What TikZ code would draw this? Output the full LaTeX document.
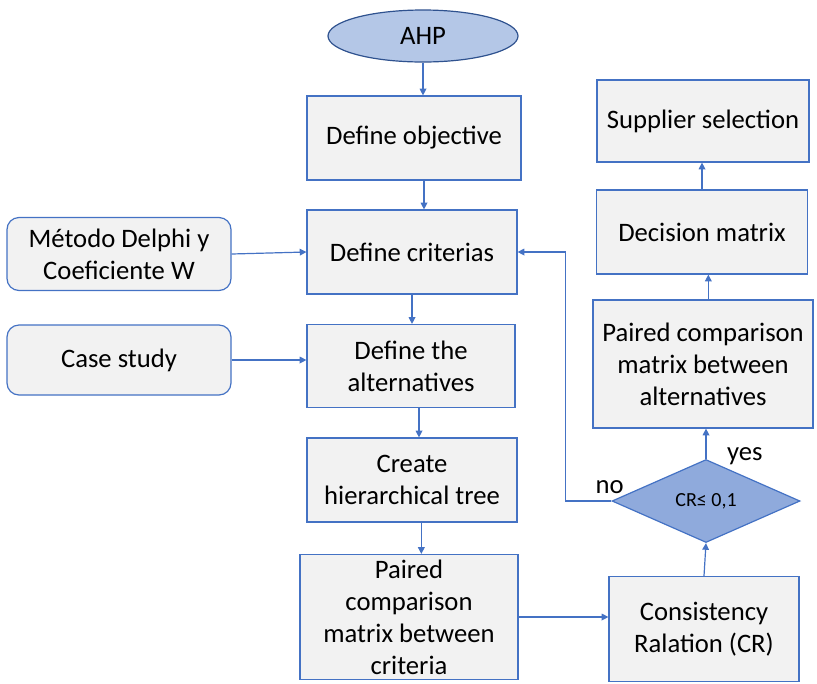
\documentclass[tikz,border=0pt]{standalone}
\usepackage{fontspec}
\setmainfont{Carlito}
\usepackage{tikz}
\usetikzlibrary{arrows.meta,shapes.geometric}
\definecolor{boxline}{HTML}{4472C4}
\definecolor{boxfill}{HTML}{F2F2F2}
\definecolor{ovalfill}{HTML}{B4C7E7}
\definecolor{ovalline}{HTML}{2F528F}
\definecolor{diafill}{HTML}{8FAADC}

\begin{document}
\begin{tikzpicture}[x=0.75pt, y=-0.75pt,
  box/.style={draw=boxline, fill=boxfill, line width=0.9pt, align=center,
              font=\fontsize{20}{24}\selectfont, inner sep=2pt},
  side/.style={box, rounded corners=9pt},
  lbl/.style={font=\fontsize{20}{24}\selectfont},
  arr/.style={draw=boxline, line width=0.9pt, -{Triangle[length=5pt, width=5pt]}}]
\useasboundingbox (0,0) rectangle (817,683);
\node[draw=ovalline, fill=ovalfill, ellipse, line width=0.9pt, minimum width=142.5pt,
      minimum height=39pt, inner sep=0pt, lbl] (ahp) at (423,36) {AHP};
\node[box, minimum width=160.5pt, minimum height=63pt] (obj) at (414,138) {Define objective};
\node[box, minimum width=157.5pt, minimum height=63pt] (crit) at (412,252) {Define criterias};
\node[side, minimum width=168pt, minimum height=54.75pt] (delphi) at (119,254) {Método Delphi y\\Coeficiente W};
\node[side, minimum width=168pt, minimum height=52.5pt] (case) at (119,360) {Case study};
\node[box, minimum width=156pt, minimum height=62.25pt] (alt) at (411,366) {Define the\\alternatives};
\node[box, minimum width=157.5pt, minimum height=63pt] (tree) at (412,480) {Create\\hierarchical tree};
\node[box, minimum width=163.5pt, minimum height=93.75pt] (pcm) at (409,617) {Paired\\comparison\\matrix between\\criteria};
\node[box, minimum width=142.5pt, minimum height=78.75pt] (cr) at (704,629) {Consistency\\Ralation (CR)};
\node[draw=boxline, fill=diafill, diamond, line width=0.9pt, inner sep=0pt, aspect=2.27,
      minimum width=141pt, minimum height=62.25pt, font=\fontsize{15}{18}\selectfont] (dia) at (706,501) {CR≤ 0,1};
\node[box, minimum width=165pt, minimum height=96pt] (pca) at (703,364) {Paired comparison\\matrix between\\alternatives};
\node[box, minimum width=158.25pt, minimum height=63pt] (dec) at (702,232) {Decision matrix};
\node[box, minimum width=159pt, minimum height=61.5pt] (sup) at (703,121) {Supplier selection};
% main column
\draw[arr] (ahp.south) -- (ahp.south |- obj.north);
\draw[arr] ([xshift=7.5pt]obj.south) -- ([xshift=7.5pt]obj.south |- crit.north);
\draw[arr] (crit.south) -- (crit.south |- alt.north);
\draw[arr] ([xshift=6pt]alt.south) -- ([xshift=6pt]alt.south |- tree.north);
\draw[arr] ([xshift=7pt]tree.south) -- ([xshift=7pt]tree.south |- pcm.north);
% inputs
\draw[arr] (delphi.east) -- (crit.west);
\draw[arr] (case.east) -- (case.east -| alt.west);
% right column
\draw[arr] (pcm.east) -- (pcm.east -| cr.west);
\draw[arr] (cr.north) -- (dia.south);
\draw[arr] (dia.north) -- node[right, lbl, xshift=12pt, yshift=-9pt] {yes} (dia.north |- pca.south);
\draw[arr] ([xshift=4pt]pca.north) -- ([xshift=4pt]pca.north |- dec.south);
\draw[arr] (dec.north) -- (dec.north |- sup.south);
\draw[arr] (dia.west) -- node[above, lbl, xshift=16pt, yshift=2pt] {no} ++(-46,0) |- (crit.east);
\end{tikzpicture}
\end{document}
